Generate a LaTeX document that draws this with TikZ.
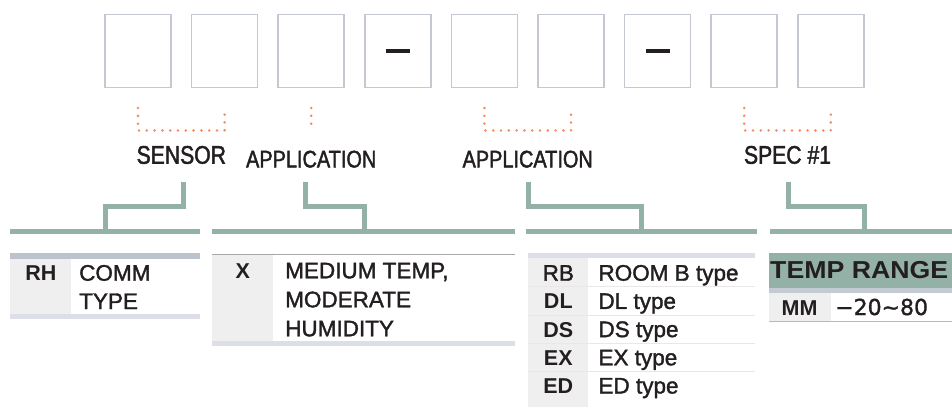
\documentclass[tikz,border=0pt]{standalone}
\usepackage{fontspec}
\setmainfont{Liberation Sans}[UprightFeatures={FakeBold=1.6}]
\newfontfamily\labelfont[FakeStretch=0.83, FakeBold=1.8]{Liberation Sans}
\newfontfamily\headfont[FakeStretch=1.09]{Liberation Sans}
\newfontfamily\symfont[FakeBold=1.4]{DejaVu Sans}
\usetikzlibrary{positioning, calc}

\definecolor{boxline}{HTML}{C4C8D2}
\definecolor{dotorange}{HTML}{F28B62}
\definecolor{barGreen}{HTML}{94B1A7}
\definecolor{inkdark}{HTML}{231F20}
\definecolor{cellgray}{HTML}{EFEFEF}
\definecolor{bandblue}{HTML}{BCC3CC}
\definecolor{bandlight}{HTML}{DCDFE5}
\definecolor{bandmid}{HTML}{C3CAD1}
\definecolor{rulegray}{HTML}{A8A8A8}
\definecolor{sepgray}{HTML}{E8E8E8}

\tikzset{
  digit/.style={draw=boxline, line width=1.5pt, minimum width=66pt, minimum height=73pt, inner sep=0pt},
  dashbar/.style={fill=inkdark, minimum width=24pt, minimum height=4.4pt, inner sep=0pt},
  dots/.style={dotorange, line width=2.8pt, line cap=round, dash pattern=on 0pt off 7.8pt},
  conn/.style={barGreen, line width=5pt},
  lab/.style={inner sep=0pt, text=inkdark, anchor=base},
  txt/.style={inner sep=0pt, text=inkdark, font=\fontsize{22.5}{22.5}\selectfont},
  code/.style={inner sep=0pt, text=inkdark, font=\bfseries\fontsize{21.5}{21.5}\selectfont}
}

\begin{document}
\begin{tikzpicture}[x=1pt, y=-1pt]
  \useasboundingbox (0,0) rectangle (952,407);
  \clip (0,0) rectangle (952,407);

  % code boxes
  \foreach \i in {1,...,9}
    \node[digit] (b\i) at ({138+86.6*(\i-1)},51.2) {};
  \node[dashbar] at (b4) {};
  \node[dashbar] at (b7) {};

  % dotted brackets
  \draw[dots] ($(b1.south)+(0,19.6)$) -- ++(0,22.4) -| ($(b2.south)+(0,19.6)$);
  \draw[dots] ($(b3.south)+(0,19.6)$) -- ++(0,22.4);
  \draw[dots] ($(b5.south)+(0,19.6)$) -- ++(0,22.4) -| ($(b6.south)+(0,19.6)$);
  \draw[dots] ($(b8.south)+(0,19.6)$) -- ++(0,22.4) -| ($(b9.south)+(0,19.6)$);

  % labels
  \node[lab, font=\labelfont\fontsize{25.5}{25.5}\selectfont] (sensor) at ($($(b1.south)!.5!(b2.south)$)+(0,75.3)$) {SENSOR};
  \node[lab, font=\labelfont\fontsize{24}{24}\selectfont] (appA) at ($(b3.south)+(0,79)$) {APPLICATION};
  \node[lab, font=\labelfont\fontsize{24}{24}\selectfont] (appB) at ($($(b5.south)!.5!(b6.south)$)+(0,79)$) {APPLICATION};
  \node[lab, font=\labelfont\fontsize{25.5}{25.5}\selectfont] (spec) at ($($(b8.south)!.5!(b9.south)$)+(0,75.3)$) {SPEC \#1};

  % bars
  \draw[conn] (10.3,231.3) -- (199.7,231.3);
  \draw[conn] (212.3,231.3) -- (515,231.3);
  \draw[conn] (526.3,231.3) -- (757,231.3);
  \draw[conn] (769.7,231.3) -- (952,231.3);

  \coordinate (t1) at (105,231.3);
  \coordinate (t2) at (364,231.3);
  \coordinate (t3) at (641.8,231.3);
  \coordinate (t4) at (864,231.3);

  \draw[conn] (sensor.base) ++(2,18) |- ($(t1)+(0,-24.6)$) -- (t1);
  \draw[conn] (appA.base) ++(-6,14.3) |- ($(t2)+(0,-24.6)$) -- (t2);
  \draw[conn] (appB.base) ++(0.7,14.3) |- ($(t3)+(0,-24.6)$) -- (t3);
  \draw[conn] (spec.base) ++(1,18) |- ($(t4)+(0,-24.6)$) -- (t4);

  % table 1
  \fill[bandblue] (10.3,253.3) rectangle (199.7,258.7);
  \fill[cellgray] (10.3,258.7) rectangle (71.3,314);
  \fill[bandlight] (10.3,314) rectangle (199.7,319);
  \node[code, anchor=base] (rh) at (40.8,280.7) {RH};
  \node[txt, anchor=base west] (commA) at (79,280.7) {COMM};
  \node[txt, anchor=base west] (commB) at (79,309) {TYPE};

  % table 2
  \draw[rulegray, line width=1.3pt] (212.3,254.3) -- (515,254.3);
  \fill[cellgray] (212.3,255) rectangle (273.3,340.7);
  \fill[bandlight] (212.3,340.7) rectangle (515,345.7);
  \node[code, anchor=base] (xcode) at (242.8,278.3) {X};
  \node[txt, anchor=base west] (medA) at (285,278.3) {MEDIUM TEMP,};
  \node[txt, anchor=base west] (medB) at (285,307.3) {MODERATE};
  \node[txt, anchor=base west] (medC) at (285,336.3) {HUMIDITY};

  % table 3
  \fill[bandlight] (528.3,253.3) rectangle (755,258.3);
  \fill[cellgray] (528.3,258.3) rectangle (588.3,407);
  \foreach \y in {286.7,315,343.3,371.5}
    \draw[sepgray, line width=1pt] (528.3,\y) -- (755,\y);
  \node[txt, anchor=base] (rb) at (558.3,280.7) {RB};
  \node[txt, anchor=base west] (rbtype) at (598.3,280.7) {ROOM B type};
  \foreach \c/\t [count=\r] in {DL/DL type, DS/DS type, EX/EX type, ED/ED type} {
    \node[code, anchor=base] (c\r) at (558.3,{280.7+28.2*\r}) {\c};
    \node[txt, anchor=base west] (ct\r) at (598.3,{280.7+28.2*\r}) {\t};
  }

  % table 4
  \fill[barGreen] (768.5,253.3) rectangle (952,288.3);
  \fill[bandmid] (768.5,288.3) rectangle (952,293.3);
  \fill[cellgray] (768.5,293.3) rectangle (830.7,321);
  \draw[rulegray!80, line width=1.3pt] (768.5,321.5) -- (952,321.5);
  \node[inner sep=0pt, text=inkdark, anchor=base west, font=\headfont\bfseries\fontsize{24.5}{24.5}\selectfont] (temphead) at (770,278.3) {TEMP RANGE};
  \node[code, anchor=base] (mm) at (799.6,315) {MM};
  \node[inner sep=0pt, text=inkdark, anchor=base west, font=\symfont\fontsize{22}{22}\selectfont] (mmrange) at (835,315) {−20∼80};
\end{tikzpicture}
\end{document}
